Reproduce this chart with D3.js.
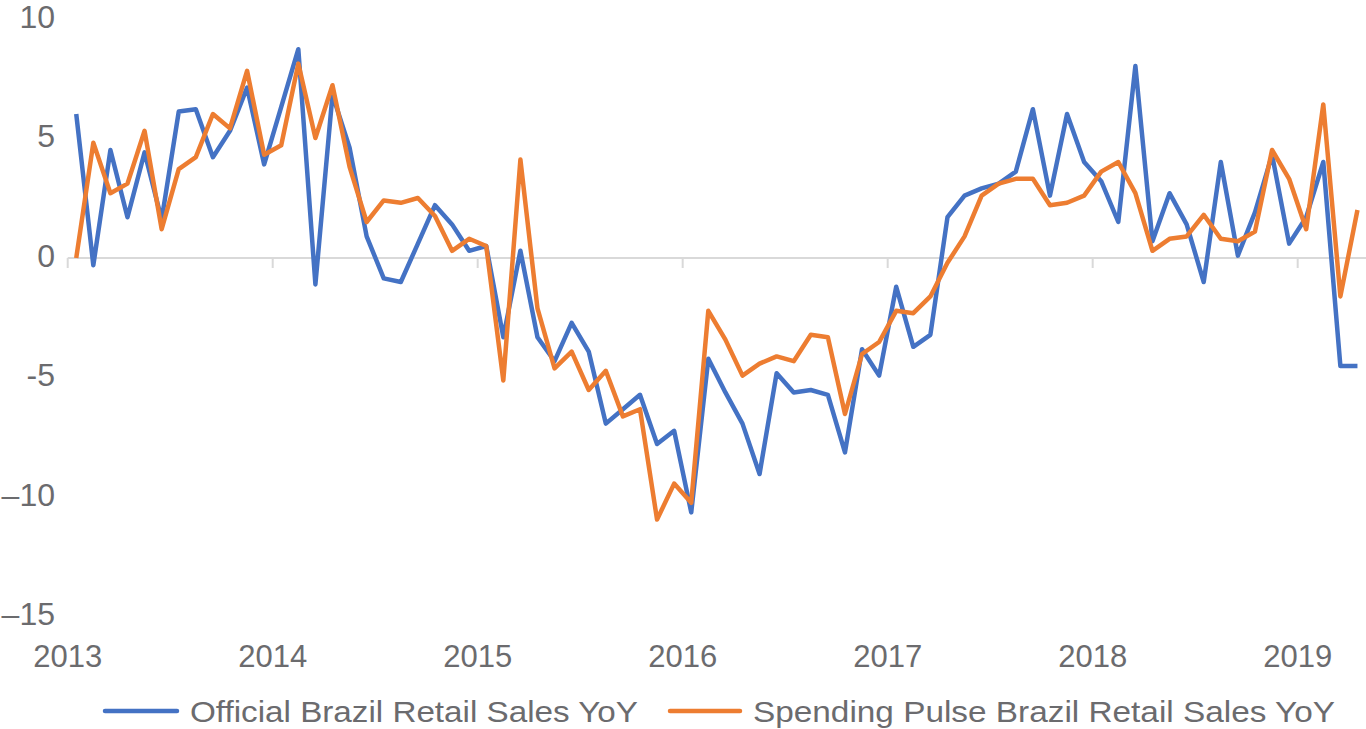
<!DOCTYPE html>
<html>
<head>
<meta charset="utf-8">
<script src="https://cdn.jsdelivr.net/npm/d3@7"></script>
<style>
html,body{margin:0;padding:0;background:#fff;}
svg{display:block;}
text{font-family:"Liberation Sans",Arial,Helvetica,sans-serif;fill:#6b6b6e;}
</style>
</head>
<body>
<svg id="chart" width="1366" height="729"></svg>
<script>
const years = ["2013","2014","2015","2016","2017","2018","2019"];
const yTickValues = [10, 5, 0, -5, -10, -15];
const yTickLabels = ["10", "5", "0", "-5", "\u201310", "\u201315"];
const seriesNames = ["Official Brazil Retail Sales YoY", "Spending Pulse Brazil Retail Sales YoY"];
const seriesColors = ["#4472C4", "#ED7D31"];

// Monthly, Jan 2013 .. Apr 2019
const official = [6.0,-0.3,4.5,1.7,4.4,1.6,6.1,6.2,4.2,5.3,7.1,3.9,
  6.3,8.7,-1.1,6.8,4.6,0.9,-0.85,-1.0,0.6,2.2,1.4,0.3,
  0.5,-3.3,0.3,-3.3,-4.3,-2.7,-3.9,-6.9,-6.3,-5.7,-7.75,-7.2,
  -10.6,-4.2,-5.6,-6.9,-9.0,-4.8,-5.6,-5.5,-5.7,-8.1,-3.8,-4.9,
  -1.2,-3.7,-3.2,1.7,2.6,2.9,3.1,3.6,6.2,2.6,6.0,4.0,
  3.2,1.5,8.0,0.7,2.7,1.4,-1.0,4.0,0.1,1.9,4.3,0.6,
  1.7,4.0,-4.5,-4.5];
const spendingPulse = [0,4.8,2.7,3.1,5.3,1.2,3.7,4.2,6.0,5.4,7.8,4.3,
  4.7,8.1,5.0,7.2,3.8,1.5,2.4,2.3,2.5,1.75,0.3,0.8,
  0.5,-5.1,4.1,-2.1,-4.6,-3.9,-5.5,-4.7,-6.6,-6.3,-10.9,-9.4,
  -10.2,-2.2,-3.4,-4.9,-4.4,-4.1,-4.3,-3.2,-3.3,-6.5,-4.0,-3.5,
  -2.2,-2.3,-1.6,-0.2,0.9,2.6,3.1,3.3,3.3,2.2,2.3,2.6,
  3.6,4.0,2.7,0.3,0.8,0.9,1.8,0.8,0.7,1.1,4.5,3.3,
  1.2,6.4,-1.6,2.0];

const svg = d3.select("#chart");
const left = 67.7, right = 1366;
const x = d3.scaleBand().domain(d3.range(official.length)).range([left, right]).padding(0);
const bw = x.bandwidth();
const y = d3.scaleLinear().domain([-15, 10]).range([618, 18]);
const cx = i => x(i) + bw / 2;

// y labels
svg.append("g").selectAll("text").data(yTickValues).join("text")
  .attr("x", 55).attr("y", d => y(d) + 9.5 - (10 - d) * 0.1)
  .attr("text-anchor", "end").attr("font-size", 32)
  .text((d, i) => yTickLabels[i]);

// zero line
const y0 = y(0);
svg.append("line").attr("x1", left).attr("x2", right).attr("y1", y0).attr("y2", y0)
  .attr("stroke", "#d9d9d9").attr("stroke-width", 2);

// year ticks
svg.append("g").selectAll("line").data(years).join("line")
  .attr("x1", (d, k) => left + 12 * k * bw).attr("x2", (d, k) => left + 12 * k * bw)
  .attr("y1", y0).attr("y2", y0 + 10)
  .attr("stroke", "#d9d9d9").attr("stroke-width", 2);

// year labels
svg.append("g").selectAll("text").data(years).join("text")
  .attr("x", (d, k) => left + 12 * k * bw).attr("y", 667)
  .attr("text-anchor", "middle").attr("font-size", 31)
  .text(d => d);

// lines
const line = d3.line().x((d, i) => cx(i)).y(d => y(d));
[official, spendingPulse].forEach((s, j) => {
  svg.append("path").datum(s).attr("d", line)
    .attr("fill", "none").attr("stroke", seriesColors[j])
    .attr("stroke-width", 4.5).attr("stroke-linejoin", "round").attr("stroke-linecap", "butt");
});

// legend
const legendItems = [{x1: 105, x2: 177, tx: 190, tl: 448}, {x1: 670, x2: 740, tx: 753, tl: 582}];
const lg = svg.append("g");
seriesNames.forEach((name, j) => {
  const it = legendItems[j];
  lg.append("line").attr("x1", it.x1).attr("x2", it.x2).attr("y1", 711).attr("y2", 711)
    .attr("stroke", seriesColors[j]).attr("stroke-width", 4.5).attr("stroke-linecap", "round");
  lg.append("text").attr("x", it.tx).attr("y", 722).attr("font-size", 30)
    .attr("textLength", it.tl).attr("lengthAdjust", "spacingAndGlyphs").text(name);
});
</script>
</body>
</html>
